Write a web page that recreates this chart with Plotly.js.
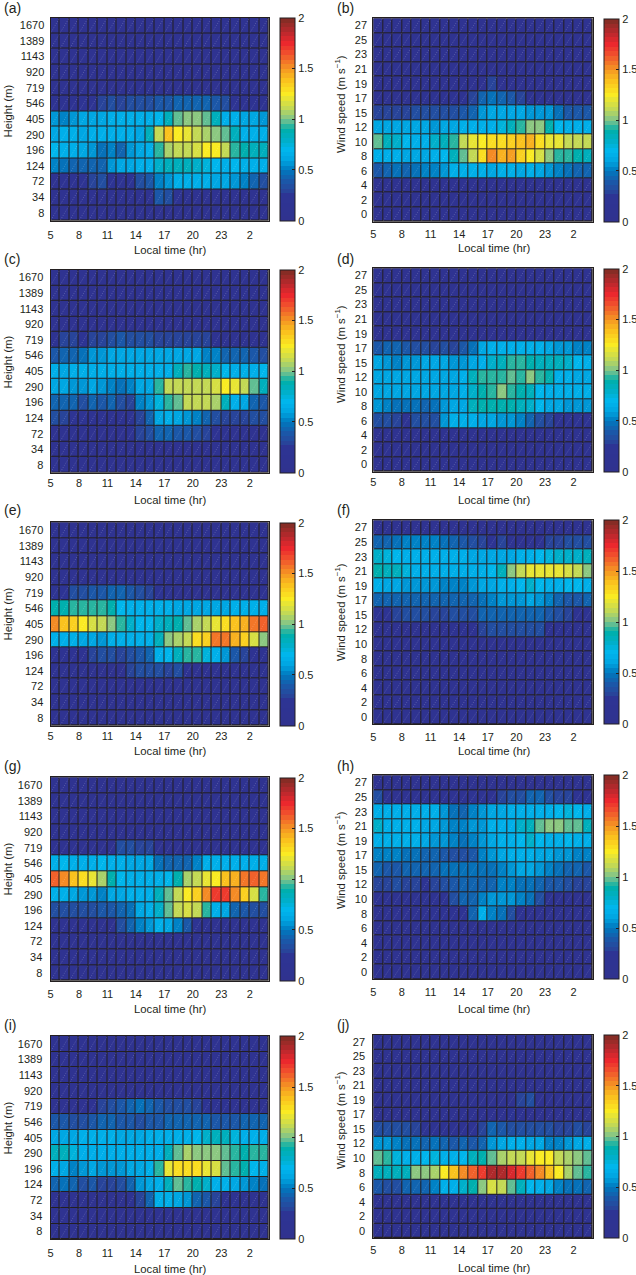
<!DOCTYPE html>
<html>
<head>
<meta charset="utf-8">
<script src="https://cdn.plot.ly/plotly-3.0.1.min.js"></script>
<style>html,body{margin:0;padding:0;background:#fff}#chart{width:636px;height:1275px}</style>
</head>
<body>
<div id="chart"></div>
<script>
const hourLabels = ["5","8","11","14","17","20","23","2"];
const heightLabels = ["1670","1389","1143","920","719","546","405","290","196","124","72","34","8"];
const speedLabels = ["27","25","23","21","19","17","15","12","10","8","6","4","2","0"];
const xTitle = "Local time (hr)";
const heightTitle = "Height (m)";
const speedTitle = "Wind speed (m s<sup>−1</sup>)";

const calm = [.1,.1,.1,.1,.1,.1,.1,.1,.1,.1,.1,.1,.1,.1,.1,.1,.1,.1,.1,.1,.1,.1,.1];

const panelA = [calm,calm,calm,calm,
 [.1,.1,.1,.1,.12,.12,.13,.13,.15,.15,.15,.13,.12,.12,.12,.12,.12,.1,.1,.1,.1,.1,.1],
 [.15,.15,.17,.2,.22,.3,.32,.3,.32,.33,.36,.38,.4,.42,.42,.42,.42,.38,.32,.2,.18,.17,.16],
 [.55,.5,.55,.6,.62,.63,.65,.65,.65,.65,.65,.72,.85,.98,1.0,1.0,.98,.85,.68,.65,.62,.6,.55],
 [.62,.65,.65,.62,.65,.66,.65,.65,.65,.62,.82,1.13,1.38,1.27,1.2,1.12,1.08,1.02,.97,.85,.68,.65,.68],
 [.7,.65,.66,.62,.55,.48,.5,.45,.55,.6,.65,.95,1.08,1.1,1.13,1.15,1.25,1.25,1.13,.95,.88,.85,.85],
 [.5,.48,.42,.45,.42,.45,.55,.6,.62,.65,.68,.8,.85,.83,.85,.8,.75,.7,.68,.7,.68,.65,.68],
 [.13,.14,.16,.2,.3,.33,.25,.2,.25,.33,.38,.5,.58,.65,.65,.65,.65,.62,.6,.55,.5,.42,.33],
 [.1,.1,.1,.1,.1,.1,.1,.1,.12,.12,.12,.38,.33,.2,.14,.12,.12,.12,.12,.12,.12,.1,.1],
 calm];
const panelB = [calm,calm,calm,calm,
 [.1,.1,.1,.1,.1,.1,.1,.1,.1,.1,.1,.1,.3,.12,.1,.1,.1,.1,.1,.1,.1,.1,.1],
 [.12,.12,.13,.13,.14,.14,.16,.14,.14,.14,.3,.42,.48,.42,.38,.3,.16,.14,.13,.12,.12,.12,.12],
 [.3,.3,.3,.3,.32,.32,.32,.32,.33,.38,.45,.55,.62,.62,.62,.6,.58,.58,.55,.48,.4,.4,.4],
 [.62,.62,.62,.62,.62,.63,.58,.62,.62,.65,.65,.65,.68,.75,.85,.95,1.0,1.0,.88,.7,.65,.65,.65],
 [.98,.85,.8,.7,.68,.68,.8,.85,.95,1.12,1.2,1.27,1.28,1.3,1.33,1.38,1.42,1.3,1.22,1.2,1.12,1.12,1.1],
 [.65,.65,.65,.62,.62,.62,.65,.72,.85,.98,1.12,1.3,1.5,1.43,1.48,1.35,1.25,1.15,1.03,.95,.95,.9,.85],
 [.4,.42,.48,.45,.48,.5,.5,.55,.65,.65,.68,.65,.62,.65,.65,.62,.65,.62,.55,.5,.48,.45,.42],
 calm,calm,calm];
const panelC = [calm,calm,calm,calm,
 [.15,.28,.3,.25,.28,.28,.32,.38,.35,.33,.33,.3,.28,.28,.3,.28,.28,.14,.12,.12,.12,.12,.12],
 [.4,.45,.42,.48,.55,.58,.6,.62,.62,.62,.62,.62,.62,.62,.6,.6,.52,.5,.45,.42,.42,.38,.35],
 [.65,.62,.65,.68,.68,.67,.65,.65,.65,.65,.65,.65,.68,.85,.92,.87,.85,.78,.72,.68,.68,.68,.72],
 [.62,.62,.58,.58,.6,.55,.5,.48,.52,.62,.62,.95,1.1,1.1,1.1,1.1,1.1,1.17,1.25,1.2,1.12,.97,.85],
 [.45,.42,.45,.35,.42,.4,.42,.32,.3,.5,.58,.75,.92,.97,1.1,1.1,1.1,1.08,.82,.65,.62,.45,.38],
 [.33,.28,.22,.2,.18,.18,.18,.18,.22,.3,.42,.6,.65,.62,.58,.5,.42,.33,.28,.28,.28,.32,.35],
 [.12,.12,.12,.12,.12,.12,.12,.13,.2,.3,.32,.42,.42,.4,.38,.32,.28,.15,.14,.13,.13,.13,.13],
 calm,calm];
const panelD = [calm,calm,calm,calm,calm,
 [.4,.42,.45,.38,.36,.33,.3,.32,.3,.4,.48,.6,.65,.65,.65,.65,.65,.65,.6,.58,.55,.52,.5],
 [.6,.58,.52,.55,.55,.6,.6,.6,.58,.58,.62,.65,.78,.85,.92,.92,.88,.86,.85,.82,.8,.72,.65],
 [.62,.62,.62,.62,.62,.62,.62,.62,.62,.65,.82,.93,.93,.95,.98,.95,1.02,.93,.88,.68,.65,.62,.62],
 [.62,.62,.62,.62,.62,.62,.62,.62,.62,.65,.78,.88,.93,1.0,.93,.88,.82,.72,.65,.65,.65,.65,.65],
 [.55,.52,.48,.48,.48,.45,.48,.58,.6,.62,.82,.88,.9,.9,.9,.82,.78,.7,.62,.6,.58,.55,.55],
 [.35,.32,.3,.2,.32,.35,.33,.58,.65,.65,.65,.62,.6,.55,.58,.5,.42,.35,.28,.22,.2,.2,.22],
 calm,calm,calm];
const panelE = [calm,calm,calm,calm,
 [.2,.25,.33,.33,.38,.38,.42,.45,.37,.32,.3,.27,.22,.12,.12,.12,.12,.12,.12,.12,.12,.12,.12],
 [.88,.88,.95,.95,.95,.95,.9,.7,.65,.65,.65,.65,.65,.62,.62,.6,.6,.62,.62,.65,.65,.65,.65],
 [1.5,1.38,1.32,1.27,1.18,1.12,1.02,.92,.8,.72,.72,.8,.82,.87,.98,1.05,1.12,1.2,1.28,1.4,1.45,1.58,1.6],
 [.65,.65,.65,.62,.62,.55,.65,.65,.65,.65,.65,.85,1.0,1.08,1.13,1.28,1.35,1.55,1.58,1.45,1.35,1.15,1.0],
 [.14,.14,.14,.18,.3,.33,.32,.3,.35,.38,.42,.65,.7,.85,.92,.92,.75,.65,.55,.4,.3,.15,.14],
 [.1,.1,.1,.1,.1,.12,.12,.12,.3,.32,.33,.32,.3,.33,.14,.12,.12,.12,.12,.1,.1,.1,.1],
 calm,calm,calm];
const panelF = [calm,
 [.42,.45,.48,.5,.5,.5,.5,.48,.45,.38,.33,.3,.26,.3,.2,.18,.2,.22,.28,.3,.32,.35,.35],
 [.78,.75,.7,.68,.65,.65,.65,.65,.65,.65,.62,.6,.6,.6,.62,.65,.65,.72,.75,.78,.78,.8,.85],
 [.9,.85,.85,.75,.68,.65,.65,.65,.65,.65,.65,.68,.72,.85,1.02,1.1,1.2,1.22,1.2,1.2,1.15,1.1,1.0],
 [.65,.62,.62,.58,.55,.55,.55,.52,.5,.52,.55,.6,.62,.65,.65,.72,.78,.72,.68,.65,.72,.7,.65],
 [.42,.42,.42,.42,.45,.45,.45,.42,.42,.42,.45,.48,.52,.55,.55,.58,.62,.58,.5,.45,.38,.38,.42],
 [.2,.22,.3,.32,.33,.33,.3,.3,.33,.35,.35,.42,.42,.42,.42,.42,.42,.45,.38,.32,.28,.15,.15],
 [.13,.13,.13,.13,.13,.13,.13,.13,.14,.15,.15,.3,.33,.33,.33,.35,.33,.32,.15,.15,.14,.13,.13],
 calm,calm,calm,calm,calm,calm];
const panelG = [calm,calm,calm,calm,
 [.1,.1,.1,.1,.12,.12,.12,.33,.36,.3,.3,.12,.12,.12,.12,.1,.1,.1,.1,.1,.1,.1,.1],
 [.65,.7,.68,.65,.65,.7,.65,.65,.62,.62,.6,.48,.45,.42,.45,.5,.65,.65,.65,.65,.65,.65,.65],
 [1.62,1.5,1.4,1.28,1.2,1.05,.9,.7,.68,.65,.65,.65,.72,.9,1.08,1.13,1.22,1.27,1.37,1.45,1.55,1.6,1.58],
 [.68,.65,.62,.55,.55,.52,.6,.62,.65,.65,.65,.85,.97,1.1,1.25,1.35,1.5,1.7,1.72,1.5,1.35,1.15,.95],
 [.33,.33,.35,.33,.35,.38,.38,.42,.48,.62,.65,.78,.98,1.1,1.18,1.1,.95,.65,.6,.45,.38,.35,.32],
 [.1,.1,.1,.1,.12,.12,.13,.32,.42,.5,.55,.65,.6,.5,.38,.22,.14,.12,.12,.12,.1,.1,.1],
 calm,calm,calm];
const panelH = [calm,
 [.32,.12,.12,.14,.14,.15,.15,.16,.18,.18,.2,.2,.18,.3,.35,.35,.45,.45,.33,.28,.3,.2,.18],
 [.65,.65,.65,.65,.65,.65,.65,.55,.48,.45,.5,.55,.6,.62,.65,.65,.65,.65,.65,.72,.75,.72,.65],
 [.8,.68,.65,.65,.65,.62,.6,.55,.5,.52,.55,.58,.65,.65,.68,.78,.85,.98,1.0,1.0,.97,.97,.85],
 [.65,.65,.65,.65,.65,.6,.58,.55,.5,.48,.5,.55,.62,.65,.68,.72,.78,.72,.68,.65,.7,.68,.65],
 [.52,.52,.5,.48,.46,.45,.42,.38,.36,.35,.38,.5,.58,.62,.65,.65,.65,.62,.6,.55,.55,.52,.52],
 [.42,.38,.4,.42,.45,.45,.45,.47,.48,.48,.48,.48,.48,.5,.55,.6,.6,.55,.52,.48,.45,.45,.38],
 [.3,.3,.32,.28,.28,.25,.3,.35,.38,.42,.42,.42,.42,.5,.5,.48,.48,.42,.38,.38,.32,.28,.28],
 [.14,.14,.14,.14,.14,.14,.16,.22,.33,.42,.45,.5,.55,.58,.58,.52,.48,.32,.2,.15,.14,.13,.13],
 [.1,.12,.12,.12,.12,.13,.14,.15,.16,.22,.42,.65,.52,.48,.35,.14,.13,.13,.13,.13,.13,.13,.13],
 calm,calm,calm,calm];
const panelI = [calm,calm,calm,calm,
 [.12,.12,.12,.13,.15,.3,.33,.38,.45,.48,.45,.38,.35,.35,.33,.3,.25,.15,.14,.13,.12,.12,.12],
 [.4,.38,.35,.32,.38,.42,.42,.4,.38,.36,.38,.4,.45,.45,.45,.42,.42,.38,.38,.38,.42,.45,.45],
 [.62,.6,.62,.65,.65,.65,.65,.62,.62,.62,.65,.65,.65,.65,.65,.7,.8,.85,.85,.75,.68,.65,.65],
 [.85,.85,.75,.68,.65,.65,.65,.65,.65,.65,.65,.65,.85,.97,1.08,1.02,1.0,1.02,.98,.95,.9,.95,.95],
 [.68,.6,.52,.58,.6,.58,.55,.55,.6,.62,.65,.92,1.2,1.28,1.3,1.3,1.22,1.15,.98,.95,.9,.7,.68],
 [.45,.48,.42,.35,.38,.3,.3,.33,.45,.58,.62,.65,.85,.98,.95,.88,.8,.68,.65,.62,.55,.5,.48],
 [.12,.12,.12,.12,.12,.12,.12,.13,.15,.3,.42,.65,.65,.6,.55,.45,.38,.3,.15,.14,.13,.13,.13],
 calm,calm];
const panelJ = [calm,calm,calm,calm,
 [.1,.1,.1,.1,.1,.1,.1,.1,.1,.1,.1,.1,.1,.1,.12,.3,.32,.1,.1,.1,.1,.1,.1],
 [.11,.11,.11,.11,.11,.11,.11,.11,.11,.11,.11,.11,.12,.13,.25,.14,.13,.12,.12,.12,.12,.11,.11],
 [.33,.35,.35,.33,.3,.2,.18,.16,.16,.16,.2,.3,.42,.4,.33,.33,.35,.35,.32,.3,.28,.33,.3],
 [.55,.55,.52,.48,.48,.45,.48,.42,.4,.42,.38,.45,.55,.6,.65,.65,.62,.6,.5,.5,.58,.62,.65],
 [.97,.95,.75,.65,.65,.7,.75,.65,.65,.72,.85,.88,.98,1.08,1.13,1.13,1.2,1.25,1.25,1.13,1.08,1.02,.98],
 [.82,.82,.85,.85,1.0,1.02,1.08,1.25,1.38,1.5,1.6,1.72,1.88,1.88,1.78,1.72,1.62,1.5,1.38,1.25,1.05,.98,.92],
 [.38,.35,.33,.42,.42,.45,.5,.65,.65,.78,.88,1.02,1.18,1.1,.98,.85,.72,.68,.62,.52,.48,.46,.42],
 calm,calm,calm];

const colorStops = [
 [0,"48,50,143"],[.25,"45,52,148"],[.3,"40,70,155"],[.4,"25,90,170"],[.5,"0,120,190"],
 [.6,"0,165,225"],[.7,"0,182,238"],[.8,"0,175,200"],[.9,"0,175,170"],[1,"125,195,140"],
 [1.1,"190,215,90"],[1.25,"250,235,35"],[1.4,"250,190,30"],[1.5,"245,150,35"],[1.65,"240,80,45"],
 [1.75,"235,40,45"],[1.85,"190,40,45"],[2,"125,45,35"]];

function bandColor(v){
  for(let i=1;i<colorStops.length;i++){
    if(v<=colorStops[i][0]){
      const [a,ca]=colorStops[i-1],[b,cb]=colorStops[i],t=(v-a)/(b-a);
      const A=ca.split(",").map(Number),B=cb.split(",").map(Number);
      return "rgb("+A.map((c,k)=>Math.round(c+(B[k]-c)*t)).join(",")+")";
    }
  }
  return "rgb("+colorStops[colorStops.length-1][1]+")";
}
const bands=44, colorscale=[];
for(let i=0;i<bands;i++){
  const c=bandColor((i+.5)/bands*2);
  colorscale.push([i/bands,c],[(i+1)/bands,c]);
}

// pixel frames: [name, data, left, top, right, bottom, bar left, bar right, xLabelGap, yLabelGap, xTitleY, yTitleCentre, letterY]
const W=636,H=1275,INK="#231f20",FONT="Liberation Sans, Arial, sans-serif";
const frames=[
 ["a",panelA,50.5,17.5,268.7,220.7,280.3,295,4,3,250,111,8],
 ["b",panelB,373.3,18.3,592.7,221.7,603.7,618.3,2,3,248,104,8],
 ["c",panelC,50.5,269.7,268.7,472.7,280.3,295,0,4,500,362,259],
 ["d",panelD,373.3,268.3,592.7,471.7,603.7,618.3,0,3,500,354,259],
 ["e",panelE,50.5,522.3,268.7,725.7,280.3,295,0,4,751,614,510],
 ["f",panelF,373.3,520.3,592.7,724.3,603.7,618.3,2,3,751,612,510],
 ["g",panelG,50.5,777.3,268.7,980.7,280.3,295,3,5,1008.7,869,766],
 ["h",panelH,373.3,775.3,592.7,979.3,603.7,618.3,2,3,1008.7,860,766],
 ["i",panelI,50.5,1036,268.7,1239.3,280.3,295,3,5,1268.7,1128,1025],
 ["j",panelJ,373.3,1034.7,592.7,1238,603.7,618.3,2,5,1267.7,1120,1025]
];

const traces=[],annotations=[];
const layout={width:W,height:H,autosize:false,margin:{l:0,r:0,t:0,b:0,pad:0,autoexpand:false},
  paper_bgcolor:"#fff",plot_bgcolor:INK,showlegend:false,font:{family:FONT,size:11,color:INK}};

frames.forEach((f,idx)=>{
  const [name,z,L,T,R,B,bL,bR,xGap,yGap,xTitleY,yTitleY,letterY]=f;
  const n=idx+1,sfx=n===1?"":String(n),isHeight=z.length===heightLabels.length;
  const labels=isHeight?heightLabels:speedLabels;
  const cols=z[0].length,rows=z.length;
  const xs=z[0].map((_,i)=>i+.5),ys=z.map((_,i)=>i);
  traces.push({type:"heatmap",z:z,x:xs,y:ys,xaxis:"x"+sfx,yaxis:"y"+sfx,zmin:0,zmax:2,
    colorscale:colorscale,xgap:1,ygap:1,hoverinfo:"z",
    colorbar:{x:bL/W,xanchor:"left",y:1-B/H,yanchor:"bottom",len:(B-T)/H,lenmode:"fraction",
      thickness:bR-bL,thicknessmode:"pixels",xpad:0,ypad:0,outlinecolor:INK,outlinewidth:1,
      ticks:"inside",ticklen:3,tickwidth:1,tickcolor:INK,tickvals:[0,.5,1,1.5,2],ticktext:["0","0.5","1","1.5","2"],
      tickfont:{family:FONT,size:11,color:INK}}});
  const sx=[],sy=[];
  z.forEach((row,r)=>row.forEach((_,c)=>{sx.push(c+.04,c+.96,null);sy.push(r+.46,r-.46,null);}));
  traces.push({type:"scatter",mode:"lines",x:sx,y:sy,xaxis:"x"+sfx,yaxis:"y"+sfx,hoverinfo:"skip",showlegend:false,
    line:{color:"rgba(255,255,255,0.35)",width:.6,dash:"1px,1.5px"}});
  layout["xaxis"+sfx]={domain:[L/W,R/W],range:[0,cols],anchor:"y"+sfx,tickmode:"array",
    tickvals:hourLabels.map((_,i)=>i*3),ticktext:hourLabels,ticks:"outside",ticklen:xGap,tickcolor:"rgba(0,0,0,0)",
    tickfont:{family:FONT,size:11,color:INK},showgrid:false,zeroline:false,showline:true,mirror:true,linecolor:INK,linewidth:1};
  layout["yaxis"+sfx]={domain:[1-B/H,1-T/H],range:[rows-.5,-.5],anchor:"x"+sfx,tickmode:"array",
    tickvals:ys,ticktext:labels,ticks:"outside",ticklen:yGap,tickcolor:"rgba(0,0,0,0)",
    tickfont:{family:FONT,size:11,color:INK},showgrid:false,zeroline:false,showline:true,mirror:true,linecolor:INK,linewidth:1};
  annotations.push({xref:"paper",yref:"paper",x:(isHeight?170:494)/W,y:1-xTitleY/H,xanchor:"center",yanchor:"middle",
    text:xTitle,showarrow:false,font:{family:FONT,size:11.3,color:INK}});
  annotations.push({xref:"paper",yref:"paper",x:(isHeight?7.5:340)/W,y:1-yTitleY/H,xanchor:"center",yanchor:"middle",
    text:isHeight?heightTitle:speedTitle,textangle:-90,showarrow:false,font:{family:FONT,size:11.3,color:INK}});
  annotations.push({xref:"paper",yref:"paper",x:(isHeight?1.5:334.5)/W,y:1-letterY/H,xanchor:"left",yanchor:"middle",
    text:"("+name+")",showarrow:false,font:{family:FONT,size:14,color:INK}});
});
layout.annotations=annotations;
Plotly.newPlot("chart",traces,layout,{displayModeBar:false,staticPlot:true}).then(gd=>{
  gd.querySelectorAll("text").forEach(t=>{if(!t.textContent.trim())t.remove();});
});
</script>
</body>
</html>
